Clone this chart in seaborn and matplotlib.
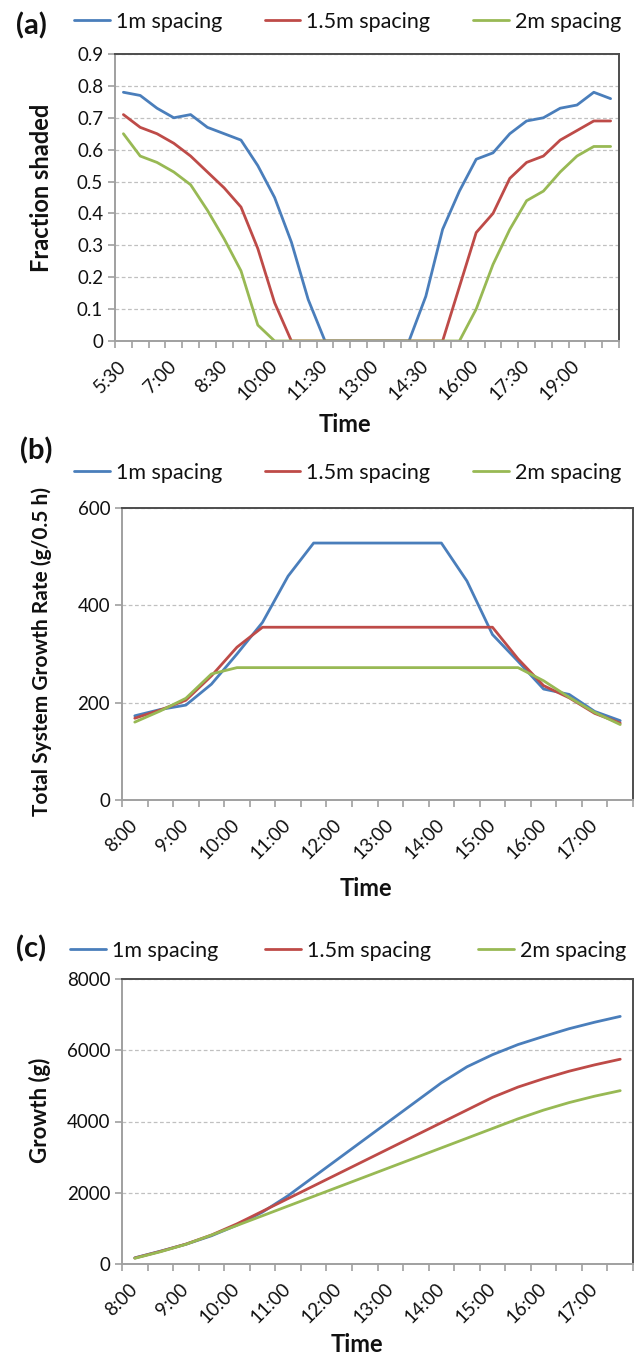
import numpy as np
import pandas as pd
import matplotlib
matplotlib.use("Agg")
import matplotlib.pyplot as plt
import seaborn as sns
from matplotlib.ticker import FixedLocator
from matplotlib.lines import Line2D

sns.set_theme(style="white")
plt.rcParams['font.family'] = ['Lato', 'DejaVu Sans']

# ---------------- data ----------------
series = ['1m spacing', '1.5m spacing', '2m spacing']
colors = ['#4A7EBB', '#BE4B48', '#98B954']

times_a = ['5:30', '6:00', '6:30', '7:00', '7:30', '8:00', '8:30', '9:00', '9:30', '10:00',
           '10:30', '11:00', '11:30', '12:00', '12:30', '13:00', '13:30', '14:00', '14:30', '15:00',
           '15:30', '16:00', '16:30', '17:00', '17:30', '18:00', '18:30', '19:00', '19:30', '20:00']
shade_1m = [0.78, 0.77, 0.73, 0.70, 0.71, 0.67, 0.65, 0.63, 0.55, 0.45, 0.31, 0.13, 0, 0, 0,
            0, 0, 0, 0.14, 0.35, 0.47, 0.57, 0.59, 0.65, 0.69, 0.70, 0.73, 0.74, 0.78, 0.76]
shade_15m = [0.71, 0.67, 0.65, 0.62, 0.58, 0.53, 0.48, 0.42, 0.29, 0.12, 0, 0, 0, 0, 0,
             0, 0, 0, 0, 0, 0.17, 0.34, 0.40, 0.51, 0.56, 0.58, 0.63, 0.66, 0.69, 0.69]
shade_2m = [0.65, 0.58, 0.56, 0.53, 0.49, 0.41, 0.32, 0.22, 0.05, 0, 0, 0, 0, 0, 0,
            0, 0, 0, 0, 0, 0, 0.10, 0.24, 0.35, 0.44, 0.47, 0.53, 0.58, 0.61, 0.61]

times_bc = ['8:00', '8:30', '9:00', '9:30', '10:00', '10:30', '11:00', '11:30', '12:00', '12:30',
            '13:00', '13:30', '14:00', '14:30', '15:00', '15:30', '16:00', '16:30', '17:00', '17:30']
rate_1m = [173, 186, 195, 238, 300, 365, 460, 528, 528, 528,
           528, 528, 528, 450, 340, 285, 228, 217, 182, 163]
rate_15m = [168, 185, 205, 255, 314, 355, 355, 355, 355, 355,
            355, 355, 355, 355, 355, 290, 235, 210, 178, 158]
rate_2m = [160, 183, 209, 259, 272, 272, 272, 272, 272, 272,
           272, 272, 272, 272, 272, 272, 245, 211, 180, 155]

growth_1m = [173, 359, 554, 792, 1092, 1457, 1917, 2445, 2973, 3501,
             4029, 4557, 5085, 5535, 5875, 6160, 6388, 6605, 6787, 6950]
growth_15m = [168, 353, 558, 813, 1127, 1482, 1837, 2192, 2547, 2902,
              3257, 3612, 3967, 4322, 4677, 4967, 5202, 5412, 5590, 5748]
growth_2m = [160, 343, 552, 811, 1083, 1355, 1627, 1899, 2171, 2443,
             2715, 2987, 3259, 3531, 3803, 4075, 4320, 4531, 4711, 4866]

yticks_a = [0, 0.1, 0.2, 0.3, 0.4, 0.5, 0.6, 0.7, 0.8, 0.9]
yticklabels_a = ['0', '0.1', '0.2', '0.3', '0.4', '0.5', '0.6', '0.7', '0.8', '0.9']
yticks_b = [0, 200, 400, 600]
yticks_c = [0, 2000, 4000, 6000, 8000]


def long_df(times, vals_list):
    rows = []
    for name, vals in zip(series, vals_list):
        for i, (t, v) in enumerate(zip(times, vals)):
            rows.append({'pos': i, 'time': t, 'value': v, 'series': name})
    return pd.DataFrame(rows)


df_a = long_df(times_a, [shade_1m, shade_15m, shade_2m])
df_b = long_df(times_bc, [rate_1m, rate_15m, rate_2m])
df_c = long_df(times_bc, [growth_1m, growth_15m, growth_2m])

# ---------------- layout ----------------
W, H = 636, 1363
fig = plt.figure(figsize=(W / 100, H / 100), dpi=100)
fig.patch.set_facecolor('white')


def rect(l, r, t, b):
    return [l / W, 1 - b / H, (r - l) / W, (b - t) / H]


TICK_FS = 13.5
LEG_FS = 15.5
TAG_FS = 21
TXT = '#111111'


def style_axes(ax, df, times, label_every, yticks, yticklabels, ylim,
               ylabel, ylabel_fs, ylabel_x, ylabel_y, xlabel_x, xlabel_y, box):
    l, r, t, b = box
    sns.lineplot(data=df, x='pos', y='value', hue='series', palette=colors,
                 hue_order=series, linewidth=2.0, ax=ax, legend=False)
    n = len(times)
    ax.set_xlim(-0.5, n - 0.5)
    ax.set_ylim(*ylim)
    major = list(range(0, n, label_every))
    ax.xaxis.set_major_locator(FixedLocator(major))
    ax.set_xticklabels([times[i] for i in major])
    ax.xaxis.set_minor_locator(FixedLocator([i - 0.5 for i in range(n + 1)]))
    ax.tick_params(axis='x', which='major', length=0, pad=16, labelsize=TICK_FS,
                   labelcolor=TXT)
    ax.tick_params(axis='x', which='minor', length=5, width=1.2, color='#A0A0A0',
                   direction='out', bottom=True)
    for lab in ax.get_xticklabels():
        lab.set_rotation(45)
        lab.set_ha('right')
        lab.set_va('center')
        lab.set_rotation_mode('anchor')
    ax.set_yticks(yticks)
    ax.set_yticklabels(yticklabels)
    ax.tick_params(axis='y', which='major', length=5, width=1.2, color='#A0A0A0',
                   direction='out', left=True, pad=3.5, labelsize=TICK_FS,
                   labelcolor=TXT)
    ax.grid(axis='y', color='#C0C0C0', linestyle=(0, (3, 2)), linewidth=0.9)
    ax.grid(axis='x', visible=False)
    ax.set_axisbelow(True)
    for side in ['left', 'bottom']:
        ax.spines[side].set_color('#A0A0A0')
        ax.spines[side].set_linewidth(1.4)
    for side in ['top', 'right']:
        ax.spines[side].set_color('#4D4D4D')
        ax.spines[side].set_linewidth(1.4)
    ax.set_xlabel('Time', fontsize=17, fontweight='bold', va='center', color=TXT)
    ax.xaxis.set_label_coords((xlabel_x - l) / (r - l), (b - xlabel_y) / (b - t))
    ax.set_ylabel(ylabel, fontsize=ylabel_fs, fontweight='bold', va='center', color=TXT)
    ax.yaxis.set_label_coords((ylabel_x - l) / (r - l), (b - ylabel_y) / (b - t))


def add_legend(ax, x, y, colsp):
    handles = [Line2D([], [], color=c, linewidth=2.0) for c in colors]
    leg = ax.legend(handles, series, loc='center left', bbox_to_anchor=(x / W, 1 - y / H),
                    bbox_transform=fig.transFigure, ncol=3, frameon=False, fontsize=LEG_FS,
                    handlelength=1.65, handletextpad=0.28, columnspacing=colsp,
                    borderaxespad=0, borderpad=0)
    for tx in leg.get_texts():
        tx.set_color(TXT)


box_a = (115, 619, 54, 341)
box_b = (122, 633, 508, 800)
box_c = (122, 633, 979, 1264)

ax_a = fig.add_axes(rect(*box_a))
style_axes(ax_a, df_a, times_a, 3, yticks_a, yticklabels_a, (0, 0.9),
           'Fraction shaded', 17, 42, 188, 345, 424, box_a)
add_legend(ax_a, 74, 22, 2.0)
fig.text(16 / W, 1 - 26 / H, '(a)', fontsize=TAG_FS, fontweight='bold', va='center', color=TXT)

ax_b = fig.add_axes(rect(*box_b))
style_axes(ax_b, df_b, times_bc, 2, yticks_b, [str(v) for v in yticks_b], (0, 600),
           'Total System Growth Rate (g/0.5 h)', 15, 42, 652, 366, 888, box_b)
add_legend(ax_b, 74, 473, 2.0)
fig.text(20 / W, 1 - 451 / H, '(b)', fontsize=TAG_FS, fontweight='bold', va='center', color=TXT)

ax_c = fig.add_axes(rect(*box_c))
style_axes(ax_c, df_c, times_bc, 2, yticks_c, [str(v) for v in yticks_c], (0, 8000),
           'Growth (g)', 16, 40, 1110, 357, 1345, box_c)
add_legend(ax_c, 70, 951, 2.2)
fig.text(16 / W, 1 - 949 / H, '(c)', fontsize=TAG_FS, fontweight='bold', va='center', color=TXT)

fig.savefig('out.png', dpi=100, facecolor='white')
